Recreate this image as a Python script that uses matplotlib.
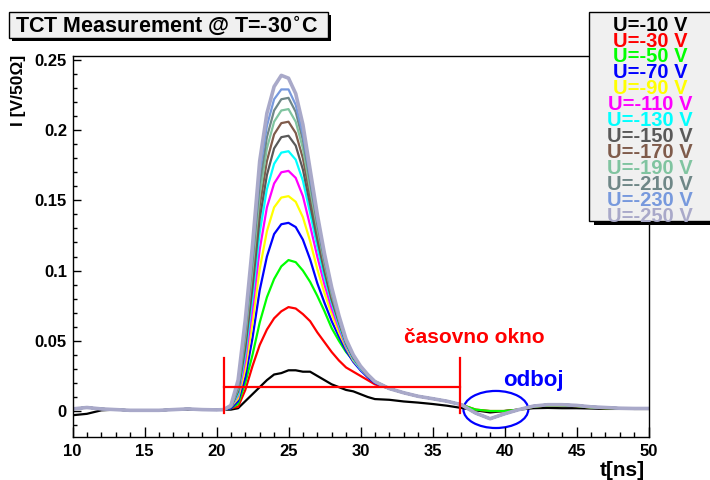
import numpy as np
import matplotlib
matplotlib.use("Agg")
import matplotlib.pyplot as plt
from matplotlib.patches import Rectangle, Ellipse
from matplotlib.ticker import MultipleLocator

plt.rcParams['font.family'] = ['Liberation Sans', 'DejaVu Sans']
plt.rcParams['font.weight'] = 'bold'

# time grids (ns): flat baseline, pulse region, tail
t_base = np.arange(10.0, 20.5, 1.0)
t_pulse = np.arange(20.5, 31.25, 0.5)
t_tail = np.arange(32.0, 50.5, 1.0)

base_common = [0.0015, 0.0025, 0.0015, 0.001, 0.0005, 0.0005, 0.0005, 0.001, 0.0015, 0.001, 0.0008]
base_black = [-0.003, -0.002, 0.0005, 0.001, 0.0005, 0.0005, 0.0005, 0.001, 0.001, 0.001, 0.001]

tail_deep = [0.016, 0.013, 0.0105, 0.0088, 0.007, 0.0045, -0.0015, -0.0055, -0.002, 0.001,
             0.0035, 0.0045, 0.0045, 0.004, 0.003, 0.0025, 0.002, 0.0018, 0.0018]
tail_shallow = [0.016, 0.013, 0.0105, 0.0088, 0.007, 0.0045, 0.001, 0.0, 0.0, 0.001,
                0.003, 0.004, 0.004, 0.0035, 0.0025, 0.002, 0.002, 0.0015, 0.0015]
tail_black = [0.008, 0.0068, 0.006, 0.005, 0.0038, 0.0022, 0.0005, -0.001, 0.0, 0.001,
              0.002, 0.0022, 0.002, 0.002, 0.0018, 0.0015, 0.0015, 0.0015, 0.0015]

voltages = [10, 30, 50, 70, 90, 110, 130, 150, 170, 190, 210, 230, 250]
colors = ['#000000', '#ff0000', '#00ff00', '#0000ff', '#ffff00', '#ff00ff', '#00ffff',
          '#595959', '#7f5b4b', '#80c4a0', '#6f8787', '#7799dd', '#a9a9c9']

# pulse values on t_pulse for each bias voltage
pulse = {
    10:  [0.001, 0.001, 0.002, 0.007, 0.012, 0.017, 0.022, 0.026, 0.027, 0.029, 0.029,
          0.028, 0.028, 0.025, 0.022, 0.019, 0.017, 0.015, 0.014, 0.012, 0.010, 0.0085],
    30:  [0.001, 0.002, 0.003, 0.015, 0.032, 0.047, 0.058, 0.066, 0.071, 0.074, 0.073,
          0.069, 0.064, 0.056, 0.049, 0.042, 0.036, 0.031, 0.028, 0.025, 0.022, 0.019],
    50:  [0.001, 0.002, 0.005, 0.020, 0.040, 0.063, 0.081, 0.094, 0.103, 0.1075, 0.106,
          0.100, 0.092, 0.082, 0.071, 0.059, 0.050, 0.042, 0.036, 0.031, 0.026, 0.021],
    70:  [0.001, 0.002, 0.007, 0.024, 0.052, 0.086, 0.110, 0.126, 0.133, 0.134, 0.131,
          0.122, 0.108, 0.091, 0.077, 0.064, 0.053, 0.043, 0.035, 0.029, 0.024, 0.020],
    90:  [0.001, 0.003, 0.009, 0.030, 0.063, 0.101, 0.128, 0.145, 0.152, 0.153, 0.149,
          0.138, 0.121, 0.101, 0.084, 0.069, 0.056, 0.045, 0.036, 0.030, 0.025, 0.021],
    110: [0.001, 0.003, 0.011, 0.036, 0.073, 0.115, 0.145, 0.162, 0.170, 0.171, 0.166,
          0.153, 0.132, 0.110, 0.090, 0.073, 0.059, 0.046, 0.037, 0.030, 0.025, 0.021],
    130: [0.001, 0.003, 0.012, 0.041, 0.081, 0.127, 0.158, 0.176, 0.184, 0.185, 0.179,
          0.164, 0.141, 0.117, 0.095, 0.077, 0.061, 0.047, 0.037, 0.030, 0.025, 0.021],
    150: [0.001, 0.003, 0.014, 0.045, 0.088, 0.137, 0.168, 0.187, 0.195, 0.196, 0.189,
          0.172, 0.147, 0.122, 0.099, 0.079, 0.063, 0.048, 0.038, 0.031, 0.025, 0.021],
    170: [0.001, 0.003, 0.015, 0.049, 0.095, 0.146, 0.178, 0.197, 0.205, 0.206, 0.198,
          0.180, 0.153, 0.126, 0.102, 0.081, 0.064, 0.049, 0.038, 0.031, 0.025, 0.021],
    190: [0.001, 0.003, 0.016, 0.053, 0.101, 0.154, 0.187, 0.206, 0.214, 0.215, 0.206,
          0.187, 0.158, 0.130, 0.105, 0.083, 0.065, 0.049, 0.039, 0.031, 0.026, 0.021],
    210: [0.001, 0.004, 0.017, 0.057, 0.107, 0.162, 0.195, 0.214, 0.222, 0.223, 0.213,
          0.193, 0.163, 0.133, 0.107, 0.085, 0.066, 0.050, 0.039, 0.031, 0.026, 0.021],
    230: [0.001, 0.004, 0.019, 0.060, 0.112, 0.170, 0.203, 0.222, 0.229, 0.229, 0.218,
          0.197, 0.167, 0.136, 0.109, 0.086, 0.066, 0.050, 0.039, 0.031, 0.026, 0.021],
    250: [0.001, 0.004, 0.022, 0.065, 0.118, 0.178, 0.212, 0.231, 0.239, 0.237, 0.226,
          0.204, 0.172, 0.140, 0.112, 0.088, 0.068, 0.051, 0.040, 0.032, 0.026, 0.021],
}

W, H = 710, 480
fig = plt.figure(figsize=(W / 100, H / 100), dpi=100)

def fx(px):
    return px / W

def fy(py):
    return 1 - py / H

ax = fig.add_axes([fx(72.5), fy(437), fx(648.5) - fx(72.5), fy(56) - fy(437)])

t_all = np.concatenate([t_base, t_pulse, t_tail])
for u, c in zip(voltages, colors):
    if u == 10:
        y = base_black + pulse[u] + tail_black
    elif u in (30, 50):
        y = base_common + pulse[u] + tail_shallow
    else:
        y = base_common + pulse[u] + tail_deep
    lw = 2.6 if u == 250 else 1.6
    ax.plot(t_all, y, color=c, lw=lw, solid_joinstyle='round')

# time window and reflection marker
win_start, win_end, win_level = 20.5, 36.9, 0.0173
ax.plot([win_start, win_end], [win_level, win_level], color='#ff0000', lw=1.6)
ax.plot([win_start, win_start], [-0.0017, 0.0375], color='#ff0000', lw=1.6)
ax.plot([win_end, win_end], [-0.0017, 0.0375], color='#ff0000', lw=1.6)
ax.add_patch(Ellipse((39.4, 0.0011), 4.5, 0.0264, fill=False, edgecolor='#0000ff', lw=1.6))
ax.text(37.9, 0.0527, 'časovno okno', color='#ff0000', fontsize=15, fontweight='bold',
        ha='center', va='center')
ax.text(42.0, 0.0214, 'odboj', color='#0000ff', fontsize=16, fontweight='bold',
        ha='center', va='center')

ax.set_xlim(10, 50)
ax.set_ylim(-0.0185, 0.2528)
ax.xaxis.set_major_locator(MultipleLocator(5))
ax.xaxis.set_minor_locator(MultipleLocator(1))
ax.yaxis.set_major_locator(MultipleLocator(0.05))
ax.yaxis.set_minor_locator(MultipleLocator(0.01))
ax.set_yticks([0, 0.05, 0.1, 0.15, 0.2, 0.25])
ax.set_yticklabels(['0', '0.05', '0.1', '0.15', '0.2', '0.25'])
ax.tick_params(axis='x', which='major', direction='in', length=7, width=1, pad=5, labelsize=12)
ax.tick_params(axis='x', which='minor', direction='in', length=3.5, width=1)
ax.tick_params(axis='y', which='major', direction='in', length=6, width=1, pad=4, labelsize=12)
ax.tick_params(axis='y', which='minor', direction='in', length=3, width=1)
for lab in ax.get_xticklabels() + ax.get_yticklabels():
    lab.set_fontweight('bold')
for s in ax.spines.values():
    s.set_linewidth(1.0)

fig.text(fx(19), fy(55), 'I [V/50Ω]', rotation=90, ha='center', va='top',
         fontsize=12.5, fontweight='bold')
fig.text(fx(645), fy(476), 't[ns]', ha='right', va='baseline', fontsize=15, fontweight='bold')

# title box with shadow
fig.patches.append(Rectangle((fx(12), fy(41)), fx(319), 26 / H, transform=fig.transFigure,
                             facecolor='black', edgecolor='none', zorder=5))
fig.patches.append(Rectangle((fx(9), fy(38)), fx(319), 26 / H, transform=fig.transFigure,
                             facecolor='#f0f0f0', edgecolor='black', lw=1, zorder=6))
fig.text(fx(166.5), fy(32.3), 'TCT Measurement @ T=-30$^{\\circ}$C', ha='center', va='baseline',
         fontsize=15.5, fontweight='bold', zorder=7)

# legend box with shadow
fig.patches.append(Rectangle((fx(594), fy(225)), fx(130), 209 / H, transform=fig.transFigure,
                             facecolor='black', edgecolor='none', zorder=5))
fig.patches.append(Rectangle((fx(589), fy(221)), fx(130), 209 / H, transform=fig.transFigure,
                             facecolor='#f0f0f0', edgecolor='black', lw=1, zorder=6))
for k, (u, c) in enumerate(zip(voltages, colors)):
    fig.text(fx(650), fy(30.7 + 15.9 * k), f'U=-{u} V', color=c, ha='center', va='baseline',
             fontsize=14.5, fontweight='bold', zorder=7, clip_on=False)

fig.savefig('out.png', dpi=100)
